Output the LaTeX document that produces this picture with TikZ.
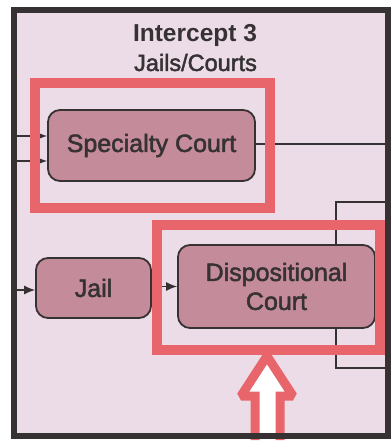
\documentclass[tikz,border=0pt]{standalone}
\usepackage{fontspec}
\setmainfont{Liberation Sans}
\newfontfamily\medfont{Liberation Sans}[FakeBold=2]
\usetikzlibrary{arrows.meta}
\pgfdeclarelayer{edgelayer}
\pgfdeclarelayer{nodelayer}
\pgfsetlayers{edgelayer,nodelayer,main}
\definecolor{panelbg}{HTML}{ECDCE7}
\definecolor{stagefill}{HTML}{C48B9B}
\definecolor{ink}{HTML}{363233}
\definecolor{redline}{HTML}{E8666B}
\tikzstyle{none}=[inner sep=0pt]
\tikzstyle{stage}=[rectangle,rounded corners=12pt,fill=stagefill,draw=ink,line width=1.8pt,text=ink,font=\medfont\fontsize{25}{29}\selectfont,align=center]
\tikzstyle{flow}=[-{Latex[length=11pt,width=9pt]},draw=ink,line width=1.2pt]
\tikzstyle{link}=[draw=ink,line width=1.2pt]
\tikzstyle{highlight}=[draw=redline,line width=10pt]
\begin{document}
\begin{tikzpicture}[x=1pt,y=-1pt]
	\useasboundingbox (0,0) rectangle (390,443);
	\begin{pgfonlayer}{nodelayer}
		\node [style=stage,minimum width=207pt,minimum height=71pt] (0) at (151.5,145.5) {Specialty Court};
		\node [style=stage,minimum width=115pt,minimum height=60pt] (1) at (93.5,288) {Jail};
		\node [style=stage,minimum width=197pt,minimum height=83pt] (2) at (276.5,286.5) {Dispositional\\Court};
		\node [style=none,anchor=base,text=ink,font=\bfseries\fontsize{24.5}{28}\selectfont] (3) at (195,42) {Intercept 3};
		\node [style=none,anchor=base,text=ink,font=\medfont\fontsize{23.5}{27}\selectfont] (4) at (195.5,71) {Jails/Courts};
		\node [style=none] (5) at (14,136) {};
		\node [style=none] (6) at (14,161) {};
		\node [style=none] (7) at (388,144) {};
		\node [style=none] (8) at (14,290) {};
		\node [style=none] (9) at (388,287) {};
		\node [style=none] (10) at (388,202) {};
		\node [style=none] (11) at (336,368) {};
		\node [style=none] (12) at (388,368) {};
	\end{pgfonlayer}
	\begin{pgfonlayer}{edgelayer}
		\fill [panelbg] (13.5,10) rectangle (388,436);
		\draw [style=flow] (5) to (5 -| 0.west);
		\draw [style=flow] (6) to (6 -| 0.west);
		\draw [style=link] (0.east |- 7) to (7);
		\draw [style=flow] (8) to (8 -| 1.west);
		\draw [style=flow] (1.east |- 2.west) to (2.west);
		\draw [style=link] (2.east) to (9);
		\draw [style=link] (10) -| (11.center) to (12);
	\end{pgfonlayer}
	\draw [style=highlight] (35,83) rectangle (270,208);
	\draw [style=highlight] (157,225) rectangle (380,350);
	\draw [style=highlight,fill=white,line width=9pt,miter limit=2] (255,440) -- (255,396) -- (241,396) -- (267,356) -- (293,396) -- (280,396) -- (280,440);
	\draw [draw=ink,line width=6pt] (13.5,10) rectangle (388,436);
\end{tikzpicture}
\end{document}
